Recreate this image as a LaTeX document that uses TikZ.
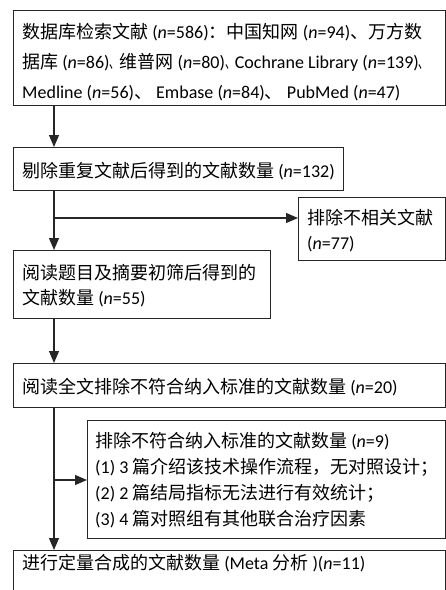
\documentclass[tikz,border=0pt]{standalone}
\usepackage{graphicx}
\usepackage{fontspec}
\setmainfont{Carlito}
\newfontfamily\cjk{Noto Sans CJK SC}
\newcommand{\zh}[1]{{\cjk #1}}
\newcommand{\hdun}{\scalebox{0.55}[1]{\cjk 、}}
\newcommand{\nn}{\textit{n}}
\usetikzlibrary{arrows.meta}
\begin{document}
\begin{tikzpicture}[x=1pt,y=-1pt,
  box/.style={draw=black!85, line width=1.1pt, anchor=north west, inner sep=0pt},
  txt/.style={anchor=base west, inner sep=0pt, font=\fontsize{18}{22}\selectfont},
  arr/.style={draw=black!85, line width=1.2pt, -{Triangle[length=12pt,width=10pt]}}]
\useasboundingbox (0,0) rectangle (446,590);
\clip (0,0) rectangle (446,590);
% boxes
\node[box, minimum width=432pt, minimum height=95pt] (b1) at (13,10) {};
\node[box, minimum width=330pt, minimum height=43pt] (b2) at (13,147) {};
\node[box, minimum width=257pt, minimum height=68pt] (b3) at (13,250) {};
\node[box, minimum width=147pt, minimum height=63pt] (s1) at (298,197) {};
\node[box, minimum width=432pt, minimum height=44pt] (b4) at (13,363) {};
\node[box, minimum width=358pt, minimum height=118pt] (s2) at (87,420) {};
\node[box, minimum width=432pt, minimum height=60pt] (b6) at (13,550) {};
% texts
\node[txt] (t1a) at (22,38.5) {\zh{数据库检索文献} (\nn=586)\zh{：中国知网} (\nn=94)\zh{、万方数}};
\node[txt] (t1b) at (22,68.5) {\zh{据库} (\nn=86)\hdun\zh{维普网} (\nn=80)\hdun Cochrane Library (\nn=139)\hdun};
\node[txt] (t1c) at (22,98.5) {Medline (\nn=56)\zh{、} Embase (\nn=84)\zh{、} PubMed (\nn=47)};
\node[txt] (t2) at (22,177.5) {\zh{剔除重复文献后得到的文献数量} (\nn=132)};
\node[txt] (t3a) at (22,279.5) {\zh{阅读题目及摘要初筛后得到的}};
\node[txt] (t3b) at (22,304.5) {\zh{文献数量} (\nn=55)};
\node[txt] (ts1a) at (307,224.5) {\zh{排除不相关文献}};
\node[txt] (ts1b) at (307,249.5) {(\nn=77)};
\node[txt] (t4) at (22,393.5) {\zh{阅读全文排除不符合纳入标准的文献数量} (\nn=20)};
\node[txt] (ts2a) at (95,447.5) {\zh{排除不符合纳入标准的文献数量} (\nn=9)};
\node[txt] (ts2b) at (95,473.5) {(1) 3 \zh{篇介绍该技术操作流程，无对照设计；}};
\node[txt] (ts2c) at (95,499.5) {(2) 2 \zh{篇结局指标无法进行有效统计；}};
\node[txt] (ts2d) at (95,525.5) {(3) 4 \zh{篇对照组有其他联合治疗因素}};
\node[txt] (t6) at (22,569.5) {\zh{进行定量合成的文献数量} (Meta \zh{分析} )(\nn=11)};
% connectors
\coordinate (cx) at (54,0);
\coordinate (h1) at (0,218);
\coordinate (h2) at (0,480);
\draw[arr] (b1.south -| cx) -- (b2.north -| cx);
\draw[arr] (b2.south -| cx) -- (b3.north -| cx);
\draw[arr] (cx |- h1) -- (s1.west |- h1);
\draw[arr] (b3.south -| cx) -- (b4.north -| cx);
\draw[arr] (b4.south -| cx) -- (b6.north -| cx);
\draw[arr] (cx |- h2) -- (s2.west |- h2);
\end{tikzpicture}
\end{document}
